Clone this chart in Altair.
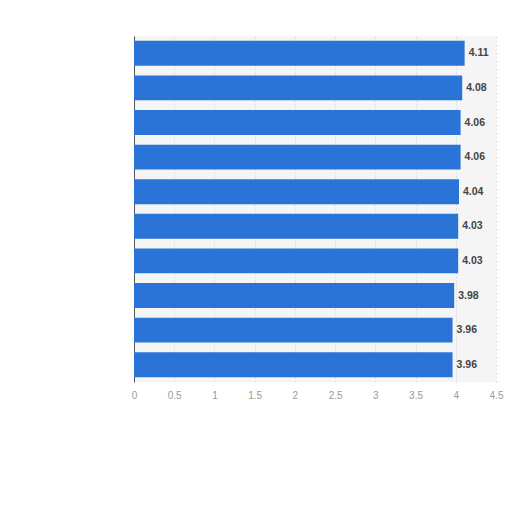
import altair as alt
import pandas as pd

categories = ["A", "B", "C", "D", "E", "F", "G", "H", "I", "J"]
values = [4.11, 4.08, 4.06, 4.06, 4.04, 4.03, 4.03, 3.98, 3.96, 3.96]
labels = ["4.11", "4.08", "4.06", "4.06", "4.04", "4.03", "4.03", "3.98", "3.96", "3.96"]
ticks = [0, 0.5, 1, 1.5, 2, 2.5, 3, 3.5, 4, 4.5]

df = pd.DataFrame({"cat": categories, "value": values, "label": labels})

x = alt.X("value:Q", scale=alt.Scale(domain=[0, 4.5], nice=False),
          axis=alt.Axis(values=ticks, title=None, domain=False, ticks=False,
                        grid=True, gridDash=[2, 2], gridColor="#dddddd",
                        labelColor="#999999", labelFontSize=10, labelPadding=8,
                        labelFont="Arial", labelFlush=False, labelExpr="datum.value + ''"))
y = alt.Y("cat:N", sort=categories,
          scale=alt.Scale(paddingInner=0.28, paddingOuter=0.14),
          axis=alt.Axis(labels=False, ticks=False, title=None, domain=True,
                        domainColor="#555555", domainWidth=1))

bars = alt.Chart(df).mark_bar(color="#2a74d8").encode(x=x, y=y)
text = alt.Chart(df).mark_text(align="left", dx=4, fontSize=10.5, fontWeight="bold",
                               color="#444444", font="Arial").encode(
    x="value:Q", y=alt.Y("cat:N", sort=categories), text="label:N")

chart = (bars + text).properties(
    width=362, height=346,
    autosize=alt.AutoSizeParams(type="none"),
    padding={"left": 126, "top": 28, "right": 8, "bottom": 40},
).configure_view(stroke=None, fill="#f5f5f5")

chart.save("out.html", embed_options={"renderer": "svg", "actions": False})
